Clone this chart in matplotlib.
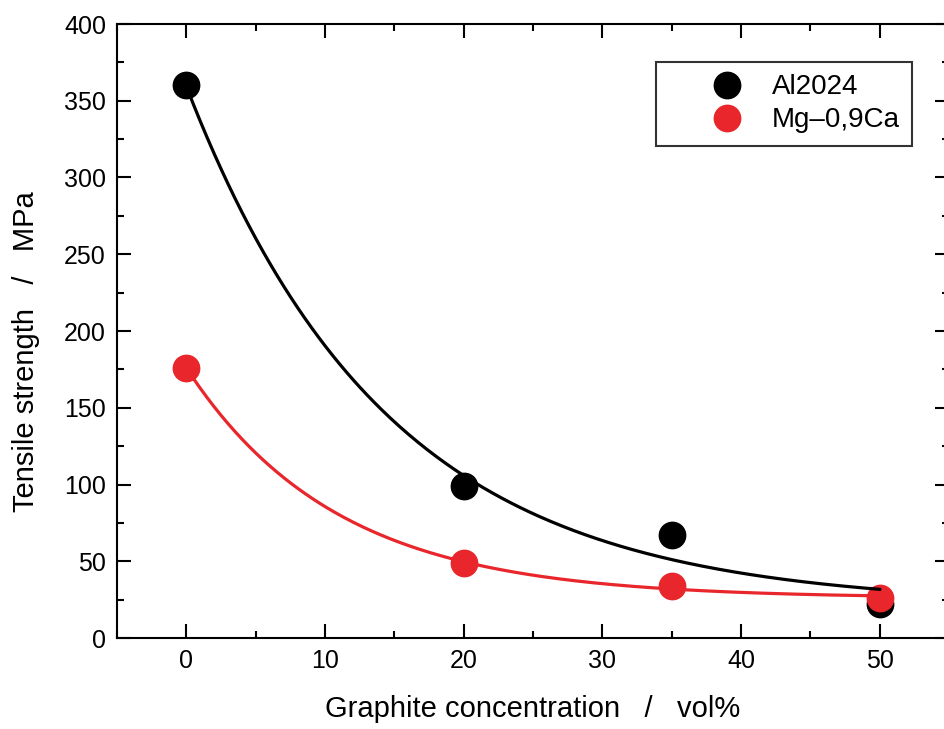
import numpy as np
import matplotlib
matplotlib.use("Agg")
import matplotlib.pyplot as plt
from matplotlib.ticker import MultipleLocator

plt.rcParams['font.family'] = ['Liberation Sans', 'DejaVu Sans']

# Data
graphite = [0, 20, 35, 50]
al2024 = [360, 99, 67, 22]
mg09ca = [176, 49, 34, 26]
series_names = ["Al2024", "Mg\u20130,9Ca"]
series_colors = ["black", "#e8262b"]

def exp_fit(x, y):
    x = np.asarray(x, float); y = np.asarray(y, float)
    best = None
    for t in np.linspace(2, 60, 2000):
        M = np.column_stack([np.ones_like(x), np.exp(-x / t)])
        coef, *_ = np.linalg.lstsq(M, y, rcond=None)
        r = np.sum((M @ coef - y) ** 2)
        if best is None or r < best[0]:
            best = (r, coef, t)
    return best[1], best[2]

fig = plt.figure(figsize=(9.44, 7.29), dpi=100)
ax = fig.add_axes([117/944, 1 - 638/729, (949-117)/944, (638-24)/729])

xs = np.linspace(0, 50, 300)
for (ys, name, col, zl, zm) in [(al2024, series_names[0], series_colors[0], 6, 3),
                                (mg09ca, series_names[1], series_colors[1], 5, 4)]:
    coef, t = exp_fit(graphite, ys)
    ax.plot(xs, coef[0] + coef[1] * np.exp(-xs / t), color=col, lw=2.3, zorder=zl)
    ax.plot(graphite, ys, 'o', color=col, ms=19, label=name, zorder=zm)

ax.set_xlim(-5, 55)
ax.set_ylim(0, 400)
ax.xaxis.set_major_locator(MultipleLocator(10))
ax.xaxis.set_minor_locator(MultipleLocator(5))
ax.yaxis.set_major_locator(MultipleLocator(50))
ax.yaxis.set_minor_locator(MultipleLocator(25))
ax.tick_params(which='both', direction='in', top=True, right=True, width=1.5, labelsize=18, pad=8)
ax.tick_params(which='major', length=10)
ax.tick_params(which='minor', length=5)
for s in ax.spines.values():
    s.set_linewidth(1.5)

ax.set_xlabel("Graphite concentration   /   vol%", fontsize=21, labelpad=16)
ax.set_ylabel("Tensile strength   /   MPa", fontsize=21)
ax.yaxis.set_label_coords((40 - 117) / 832, 1 - (352 - 24) / 614)

leg = ax.legend(loc='upper right', bbox_to_anchor=((912-117)/832, (638-62)/614),
                fontsize=20, frameon=True, fancybox=False, edgecolor='black',
                handletextpad=-0.5, borderpad=0.45, labelspacing=0.25, markerscale=1.0,
                handlelength=4.2, borderaxespad=0)
leg.get_frame().set_linewidth(1.5)

fig.savefig("out.png", dpi=100)
